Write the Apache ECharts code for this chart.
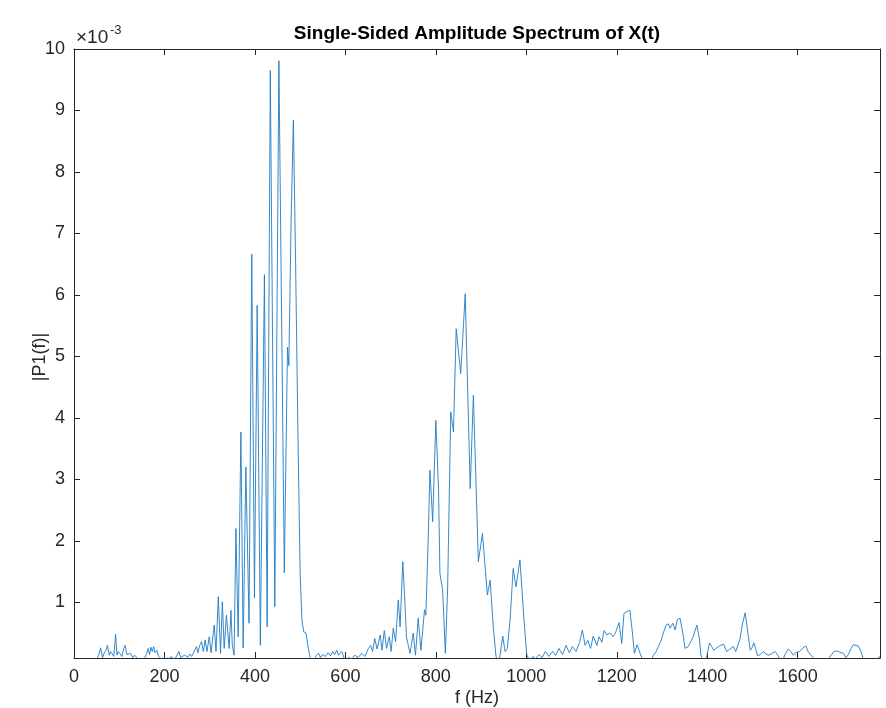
<!DOCTYPE html>
<html><head><meta charset="utf-8">
<script src="https://cdn.jsdelivr.net/npm/echarts@6/dist/echarts.min.js"></script>
<style>html,body{margin:0;padding:0;background:#fff}#c{width:886px;height:708px}</style>
</head><body><div id="c"></div>
<script>
// Frequency (Hz)
const freqHz = [
  45,50,55,59,63,67,71,74,78,81,
  85,88,92,95,98,102,106,110,113,117,
  120,125,130,134,139,144,150,155,160,164,
  167,170,173,176,179,183,187,191,196,201,
  206,210,215,220,225,229,232,236,240,244,
  248,252,256,260,264,267,271,274,278,282,
  286,290,294,299,
  303,310,314,319,324,328,332,337,343,347,
  350,354,358,363,369,374,380,387,393,399,
  405,412,421,427,434,444,453,465,472,475,
  480,485,490,495,500,504,508,513,518,523,
  530,536,541,545,550,556,562,567,572,576,
  581,585,592,599,607,614,621,628,636,643,
  651,656,660,665,670,677,681,686,691,697,
  701,706,711,717,721,727,732,735,739,743,
  750,755,761,767,775,778,783,787,793,800,
  806,809,815,821,826,833,839,845,855,865,
  876,883,894,903,914,920,927,933,940,948,
  953,958,964,971,977,986,995,1001,1008,
  1015,1020,1028,1035,1042,1050,1058,1065,1072,1080,
  1088,1095,1102,1110,1118,1124,1130,1136,1142,1148,
  1156,1161,1167,1172,1178,1185,1192,1198,1205,1211,
  1216,1222,1229,1234,1239,1245,1253,1259,1264,1270,
  1276,1281,1287,1292,1298,1303,1309,1314,1318,1324,
  1329,1334,1340,1346,1351,1358,1363,1369,1377,1383,
  1386,1392,1397,1401,1405,1410,1414,1419,1425,1430,
  1436,1443,1450,1458,1463,1467,1472,1478,1484,1489,
  1495,1499,1503,1507,1511,1517,1524,1530,1535,1542,
  1550,1555,1560,1566,1572,1579,1585,1590,1596,1604,
  1612,1618,1623,1629,1635,1642,1650,1660,1668,1675,
  1680,1686,1693,1701,1707,1712,1718,1723,1729,1734,
  1740,1745,1752,1765,1775,1782
];
// |P1(f)| in units of 1e-3
const amplitude = [
  0.02,0.06,0.15,0.26,0.1,0.18,0.22,0.3,0.14,0.2,
  0.22,0.12,0.48,0.14,0.2,0.2,0.12,0.25,0.3,0.15,
  0.12,0.17,0.1,0.14,0.1,0.05,0.06,0.08,0.15,0.25,
  0.15,0.27,0.2,0.28,0.18,0.22,0.12,0.1,0.06,0.05,
  0.1,0.06,0.12,0.08,0.1,0.13,0.2,0.1,0.08,0.14,
  0.15,0.11,0.16,0.12,0.18,0.2,0.28,0.18,0.3,0.36,
  0.2,0.39,0.2,0.44,
  0.18,0.63,0.2,1.09,0.17,1.01,0.25,0.79,0.25,0.87,
  0.3,0.14,2.2,0.44,3.77,0.26,3.2,0.66,6.66,1.07,
  5.83,0.3,6.33,0.6,9.65,0.93,9.81,1.48,5.15,4.85,
  7.2,8.84,6.5,3.8,1.47,0.7,0.52,0.5,0.25,0.08,
  0.05,0.14,0.17,0.1,0.15,0.12,0.18,0.13,0.2,0.15,
  0.22,0.14,0.2,0.06,0.1,0.08,0.14,0.1,0.17,0.12,
  0.25,0.3,0.2,0.41,0.24,0.47,0.22,0.54,0.25,0.44,
  0.2,0.58,0.36,1.04,0.6,1.66,0.93,0.44,0.3,0.17,
  0.5,0.14,0.74,0.22,0.88,0.79,2.0,3.15,2.31,3.96,
  2.83,1.47,1.2,0.17,1.2,4.1,3.77,5.45,4.72,6.02,
  2.85,4.37,1.66,2.12,1.12,1.36,0.6,0.12,0.04,0.45,
  0.2,0.25,0.7,1.55,1.25,1.69,0.7,0.15,0.04,
  0.12,0.08,0.15,0.1,0.2,0.12,0.2,0.14,0.25,0.15,
  0.3,0.18,0.28,0.2,0.35,0.55,0.3,0.38,0.25,0.45,
  0.3,0.44,0.35,0.54,0.47,0.5,0.44,0.52,0.67,0.33,
  0.82,0.85,0.87,0.55,0.17,0.31,0.14,0.05,0.02,0.06,
  0.06,0.14,0.2,0.28,0.38,0.5,0.63,0.65,0.58,0.66,
  0.55,0.72,0.74,0.5,0.25,0.28,0.35,0.44,0.63,0.39,
  0.14,0.04,0.03,0.2,0.34,0.28,0.22,0.25,0.28,0.3,
  0.32,0.2,0.24,0.28,0.2,0.22,0.39,0.65,0.83,0.55,
  0.22,0.26,0.34,0.25,0.13,0.15,0.2,0.16,0.14,0.16,
  0.2,0.15,0.08,0.05,0.15,0.24,0.2,0.14,0.18,0.2,
  0.26,0.29,0.2,0.14,0.1,0.06,0.03,0.05,0.08,0.15,
  0.2,0.21,0.19,0.17,0.1,0.15,0.25,0.31,0.3,0.29,
  0.2,0.08,0.03,0.04,0.08,0.12
];
const xTicks = [0, 200, 400, 600, 800, 1000, 1200, 1400, 1600];
const yTicks = [1, 2, 3, 4, 5, 6, 7, 8, 9, 10];
const titleText = 'Single-Sided Amplitude Spectrum of X(t)';
const xName = 'f (Hz)';
const yName = '|P1(f)|';

const points = freqHz.map((f, i) => [f, amplitude[i]]);
const FONT = '"Liberation Sans", Arial, Helvetica, sans-serif';
const AX = '#262626';

const chart = echarts.init(document.getElementById('c'), null, {renderer: 'canvas'});
const baseX = {
  type: 'value', min: 0, max: 1782,
  axisLine: {show: true, onZero: false, lineStyle: {color: AX, width: 1}},
  axisTick: {show: true, inside: true, length: 6, customValues: xTicks, lineStyle: {color: AX, width: 1}},
  splitLine: {show: false}
};
const baseY = {
  type: 'value', min: 0.0944, max: 10,
  axisLine: {show: true, onZero: false, lineStyle: {color: AX, width: 1}},
  axisTick: {show: true, inside: true, length: 6, customValues: yTicks, lineStyle: {color: AX, width: 1}},
  splitLine: {show: false}
};
chart.setOption({
  animation: false,
  backgroundColor: '#fff',
  grid: {left: 74, right: 6, top: 49, bottom: 50, containLabel: false},
  xAxis: [
    Object.assign({}, baseX, {position: 'bottom',
      axisLabel: {show: true, customValues: xTicks, margin: 10, color: AX, fontSize: 18, fontFamily: FONT,
        formatter: v => String(v)}}),
    Object.assign({}, baseX, {position: 'top', axisLabel: {show: false}})
  ],
  yAxis: [
    Object.assign({}, baseY, {position: 'left',
      axisLabel: {show: true, customValues: yTicks, margin: 9, color: AX, fontSize: 18, fontFamily: FONT,
        formatter: v => String(v)}}),
    Object.assign({}, baseY, {position: 'right', axisLabel: {show: false}})
  ],
  series: [{
    type: 'line', xAxisIndex: 0, yAxisIndex: 0,
    data: points, showSymbol: false, symbol: 'none', clip: true,
    lineStyle: {color: '#1f7cc4', width: 0.9}
  }],
  graphic: [
    {type: 'text', x: 477, y: 34, style: {text: titleText, align: 'center', verticalAlign: 'middle',
      font: 'bold 19px ' + FONT, fill: '#000'}},
    {type: 'text', x: 76, y: 38, style: {text: '\u00d710', align: 'left', verticalAlign: 'middle',
      font: '19px ' + FONT, fill: AX}},
    {type: 'text', x: 110, y: 30, style: {text: '-3', align: 'left', verticalAlign: 'middle',
      font: '13px ' + FONT, fill: AX}},
    {type: 'text', x: 477, y: 698, style: {text: xName, align: 'center', verticalAlign: 'middle',
      font: '18px ' + FONT, fill: AX}},
    {type: 'text', x: 40, y: 357, rotation: Math.PI / 2, style: {text: yName, align: 'center', verticalAlign: 'middle',
      font: '18px ' + FONT, fill: AX}}
  ]
});
</script>
</body></html>
